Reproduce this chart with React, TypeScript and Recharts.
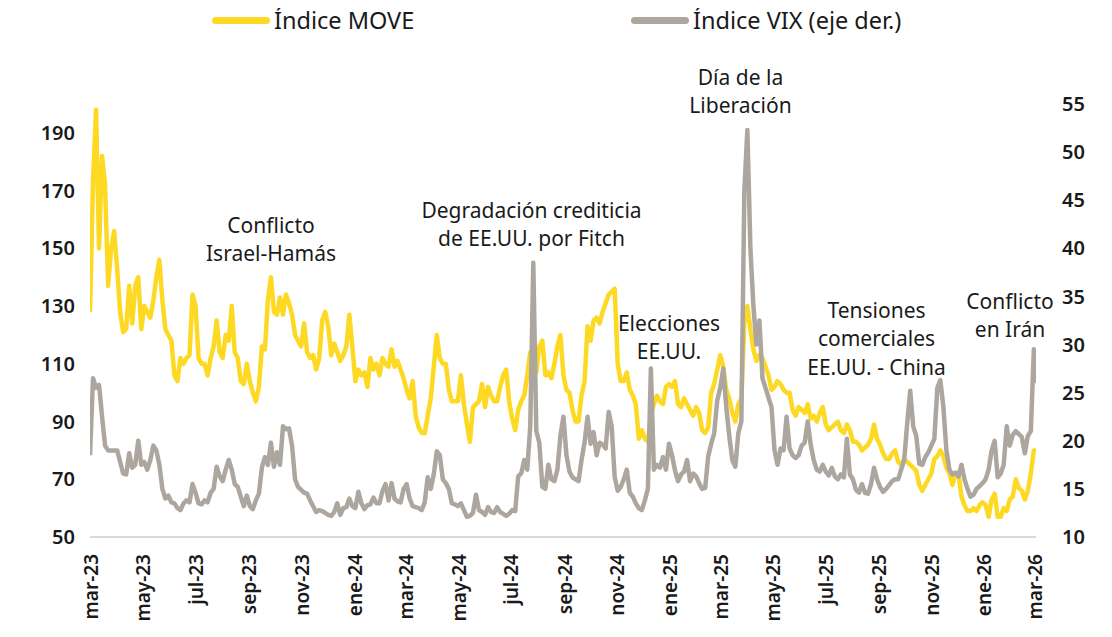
import React from "react";
import { LineChart, Line, XAxis, YAxis } from "recharts";

// Sampling of the time axis: days since 1 Mar 2023, one observation every 3.5 days
const FIRST_DAY = 8;
const STEP_DAYS = 3.5;

const moveValues: number[] = [
  128, 173, 198, 150, 182, 172, 137, 150, 156, 143,
  128, 121, 122, 137, 124, 137, 140, 122, 130, 128,
  126, 132, 140, 146, 132, 122, 120, 118, 106, 104,
  112, 110, 112, 113, 134, 130, 112, 110, 110, 106,
  112, 116, 125, 114, 112, 120, 118, 130, 114, 112,
  104, 103, 110, 104, 100, 97, 102, 116, 115, 132,
  140, 128, 127, 133, 127, 134, 131, 127, 120, 118,
  116, 124, 114, 112, 113, 108, 112, 125, 128, 123,
  113, 117, 114, 111, 113, 116, 127, 116, 104, 108,
  106, 107, 102, 112, 108, 110, 106, 112, 110, 109,
  115, 109, 111, 108, 105, 101, 98, 104, 92, 88,
  86, 86, 92, 98, 109, 120, 112, 110, 110, 101,
  97, 97, 97, 106, 96, 89, 83, 95, 96, 97,
  103, 95, 102, 99, 97, 97, 102, 106, 108, 97,
  91, 87, 94, 97, 99, 106, 114, 108, 107, 116,
  118, 106, 107, 105, 110, 116, 120, 106, 101, 100,
  94, 90, 90, 99, 104, 123, 118, 125, 126, 124,
  128, 131, 134, 135, 136, 110, 104, 104, 107, 101,
  99, 96, 84, 87, 84, 83, 92, 96, 99, 97,
  96, 102, 103, 102, 104, 96, 95, 98, 96, 94,
  92, 95, 93, 87, 86, 88, 100, 103, 108, 113,
  109, 101, 98, 93, 90, 96, 98, 124, 130, 122,
  115, 111, 113, 112, 109, 106, 101, 102, 104, 103,
  101, 100, 100, 94, 92, 95, 94, 93, 96, 91,
  92, 90, 93, 95, 89, 87, 88, 89, 90, 87,
  86, 89, 87, 83, 83, 82, 80, 81, 82, 84,
  89, 84, 82, 79, 77, 77, 79, 80, 76, 75,
  77, 76, 75, 74, 73, 68, 66, 68, 70, 72,
  77, 78, 80, 78, 74, 72, 68, 72, 72, 64,
  61, 59, 59, 60, 59, 61, 62, 61, 57, 63,
  65, 57, 57, 60, 59, 63, 64, 70, 67, 66,
  63, 66, 72, 80, 80,
];

const vixValues: number[] = [
  18.5, 26.5, 25.5, 25.8, 22.5, 19.5, 19.0, 19.0, 19.0, 19.0,
  17.8, 16.6, 16.5, 18.7, 17.2, 17.5, 20.0, 17.5, 17.8, 17.0,
  18.0, 19.5, 19.0, 17.5, 15.0, 14.0, 14.3, 13.6, 13.5, 13.0,
  12.8, 13.5, 13.8, 13.6, 15.5, 14.6, 13.5, 13.4, 13.8, 13.6,
  14.6, 15.0, 17.3, 16.3, 15.8, 17.0, 18.0, 17.0, 15.5, 15.2,
  14.2, 13.2, 14.3, 13.2, 12.9, 13.8, 14.5, 17.2, 18.3, 17.5,
  19.8, 17.3, 18.8, 17.5, 21.5, 21.2, 21.3, 19.5, 16.0, 15.2,
  14.9, 14.6, 14.5, 13.8, 13.2, 12.6, 12.8, 12.7, 12.5, 12.3,
  12.2, 12.6, 13.5, 12.3, 13.0, 13.1, 14.0, 13.2, 13.0, 14.7,
  13.5, 12.9, 13.3, 13.4, 14.1, 13.5, 13.5, 14.8, 15.5, 13.8,
  15.6, 14.0, 13.7, 13.6, 15.0, 15.5, 14.0, 13.2, 13.1, 13.0,
  12.8, 13.6, 16.2, 15.0, 16.5, 18.9, 18.5, 16.0, 15.6, 15.0,
  13.5, 13.4, 13.2, 13.5, 12.8, 12.1, 12.2, 12.5, 14.4, 12.8,
  12.6, 12.3, 13.1, 12.6, 12.5, 13.1, 12.6, 12.4, 12.2, 12.4,
  12.8, 12.7, 16.3, 16.6, 18.0, 17.0, 21.5, 38.5, 21.0, 19.8,
  15.2, 15.0, 17.5, 16.0, 15.8, 17.0, 20.5, 22.5, 18.5, 16.8,
  16.2, 16.0, 15.8, 18.0, 19.8, 22.5, 19.7, 20.9, 18.5, 19.8,
  19.6, 19.2, 23.0, 21.5, 16.2, 14.8, 15.2, 16.0, 17.0, 14.6,
  14.2, 13.5, 13.0, 12.8, 13.8, 15.0, 27.5, 17.0, 17.5, 17.2,
  18.3, 17.0, 19.7, 18.5, 16.9, 15.8, 16.5, 16.8, 18.0, 15.8,
  16.6, 16.3, 15.6, 15.0, 15.1, 18.4, 19.7, 20.8, 24.2, 25.5,
  27.5, 23.5, 20.5, 18.0, 17.3, 20.8, 22.0, 46.0, 52.3, 40.0,
  34.0, 30.0, 32.5, 26.5, 25.5, 24.5, 23.5, 19.0, 17.5, 19.2,
  19.0, 22.5, 19.2, 18.5, 18.2, 18.5, 19.5, 19.8, 22.0, 19.6,
  18.0, 17.0, 16.8, 17.5, 16.8, 16.4, 17.2, 16.3, 16.0, 16.5,
  16.2, 20.2, 16.5, 16.0, 14.9, 14.6, 15.5, 14.6, 14.5, 15.5,
  17.2, 16.0, 15.2, 14.7, 15.0, 15.4, 15.8, 16.0, 16.0, 17.0,
  18.0, 21.8, 25.2, 21.5, 20.5, 17.6, 17.5, 18.3, 18.8, 19.5,
  20.2, 25.5, 26.3, 23.5, 19.0, 17.0, 16.5, 16.7, 16.3, 17.5,
  16.0, 15.0, 14.2, 14.4, 15.0, 15.3, 15.6, 16.0, 17.0, 19.0,
  20.0, 16.2, 16.6, 17.5, 21.5, 19.5, 20.6, 21.0, 20.7, 20.4,
  18.7, 20.5, 21.0, 29.5, 26.0,
];

const tickLabels: string[] = [
  "mar-23", "may-23", "jul-23", "sep-23", "nov-23", "ene-24", "mar-24",
  "may-24", "jul-24", "sep-24", "nov-24", "ene-25", "mar-25", "may-25",
  "jul-25", "sep-25", "nov-25", "ene-26", "mar-26",
];

const leftTicks: number[] = [50, 70, 90, 110, 130, 150, 170, 190];
const rightTicks: number[] = [10, 15, 20, 25, 30, 35, 40, 45, 50, 55];

const seriesNames = { move: "Índice MOVE", vix: "Índice VIX (eje der.)" };

const annotations: { lines: string[]; cx: number; cy: number }[] = [
  { lines: ["Conflicto", "Israel-Hamás"], cx: 263, cy: 217 },
  { lines: ["Degradación crediticia", "de EE.UU. por Fitch"], cx: 523.5, cy: 202 },
  { lines: ["Día de la", "Liberación"], cx: 732.5, cy: 69 },
  { lines: ["Elecciones", "EE.UU."], cx: 661, cy: 315 },
  { lines: ["Tensiones", "comerciales", "EE.UU. - China"], cx: 868.5, cy: 302 },
  { lines: ["Conflicto", "en Irán"], cx: 1002, cy: 293 },
];

const MONTHS: Record<string, number> = {
  ene: 0, feb: 1, mar: 2, abr: 3, may: 4, jun: 5, jul: 6, ago: 7, sep: 8, oct: 9, nov: 10, dic: 11,
};
const BASE = Date.UTC(2023, 2, 1);
const LABEL_DAY_OFFSET = 9;
const labelDay = (label: string) => {
  const [m, y] = label.split("-");
  return (Date.UTC(2000 + Number(y), MONTHS[m], 1) - BASE) / 86400000 + LABEL_DAY_OFFSET;
};
const tickPositions = tickLabels.map(labelDay);
const labelByPos = new Map<number, string>(tickPositions.map((p, i) => [p, tickLabels[i]]));

const data = moveValues.map((v, i) => ({
  d: FIRST_DAY + i * STEP_DAYS,
  move: v,
  vix: vixValues[i],
}));

const YELLOW = "#FDD923";
const GRAY = "#ACA69F";
const TEXT = "#1a1a1a";
const FONT = "'Noto Sans', 'Open Sans', sans-serif";

const XTick = (props: any) => {
  const { x, y, payload } = props;
  const ty = y + 17;
  return (
    <text
      x={x}
      y={ty}
      transform={`rotate(-90 ${x} ${ty})`}
      textAnchor="end"
      dominantBaseline="central"
      fontSize={19}
      fontWeight={600}
      fill={TEXT}
      fontFamily={FONT}
    >
      {labelByPos.get(payload.value) ?? ""}
    </text>
  );
};

const LINE_H = 28.5;

export default function App() {
  return (
    <div style={{ position: "relative", width: 1104, height: 629, fontFamily: FONT, color: TEXT }}>
      <LineChart
        width={1104}
        height={629}
        data={data}
        margin={{ top: 96, right: 16, bottom: 0, left: 0 }}
      >
        <XAxis
          dataKey="d"
          type="number"
          domain={[8, 1106]}
          ticks={tickPositions}
          interval={0}
          tick={<XTick />}
          tickLine={false}
          tickSize={0}
          tickMargin={0}
          height={100}
          axisLine={{ stroke: "#D9D9D9", strokeWidth: 2 }}
          allowDataOverflow
        />
        <YAxis
          yAxisId="l"
          orientation="left"
          domain={[50, 200]}
          ticks={leftTicks}
          interval={0}
          width={82}
          axisLine={false}
          tickLine={false}
          tickSize={0}
          tickMargin={15}
          tick={{ fontSize: 20, fontWeight: 600, fill: TEXT, fontFamily: FONT }}
          allowDataOverflow
        />
        <YAxis
          yAxisId="r"
          orientation="right"
          domain={[10, 55]}
          ticks={rightTicks}
          interval={0}
          width={60}
          axisLine={false}
          tickLine={false}
          tickSize={0}
          tickMargin={26}
          tick={{ fontSize: 20, fontWeight: 600, fill: TEXT, fontFamily: FONT }}
          allowDataOverflow
        />
        <Line
          yAxisId="l"
          type="linear"
          dataKey="move"
          name={seriesNames.move}
          stroke={YELLOW}
          strokeWidth={4.5}
          strokeLinejoin="round"
          dot={false}
          activeDot={false}
          isAnimationActive={false}
        />
        <Line
          yAxisId="r"
          type="linear"
          dataKey="vix"
          name={seriesNames.vix}
          stroke={GRAY}
          strokeWidth={4.5}
          strokeLinejoin="round"
          dot={false}
          activeDot={false}
          isAnimationActive={false}
        />
      </LineChart>

      {/* Legend */}
      <div style={{ position: "absolute", left: 204, top: -4, height: 32, display: "flex", alignItems: "center" }}>
        <div style={{ width: 58, height: 7, borderRadius: 3.5, background: YELLOW }} />
        <span style={{ marginLeft: 4, fontSize: 23.5, lineHeight: "32px" }}>{seriesNames.move}</span>
      </div>
      <div style={{ position: "absolute", left: 623, top: -4, height: 32, display: "flex", alignItems: "center" }}>
        <div style={{ width: 58, height: 7, borderRadius: 3.5, background: GRAY }} />
        <span style={{ marginLeft: 4, fontSize: 23.5, lineHeight: "32px" }}>{seriesNames.vix}</span>
      </div>

      {/* Annotations */}
      {annotations.map((a, i) => (
        <div
          key={i}
          style={{
            position: "absolute",
            left: a.cx - 150,
            width: 300,
            top: a.cy - LINE_H / 2,
            textAlign: "center",
            fontSize: 21,
            lineHeight: `${LINE_H}px`,
            whiteSpace: "nowrap",
          }}
        >
          {a.lines.map((l, j) => (
            <div key={j}>{l}</div>
          ))}
        </div>
      ))}
    </div>
  );
}
